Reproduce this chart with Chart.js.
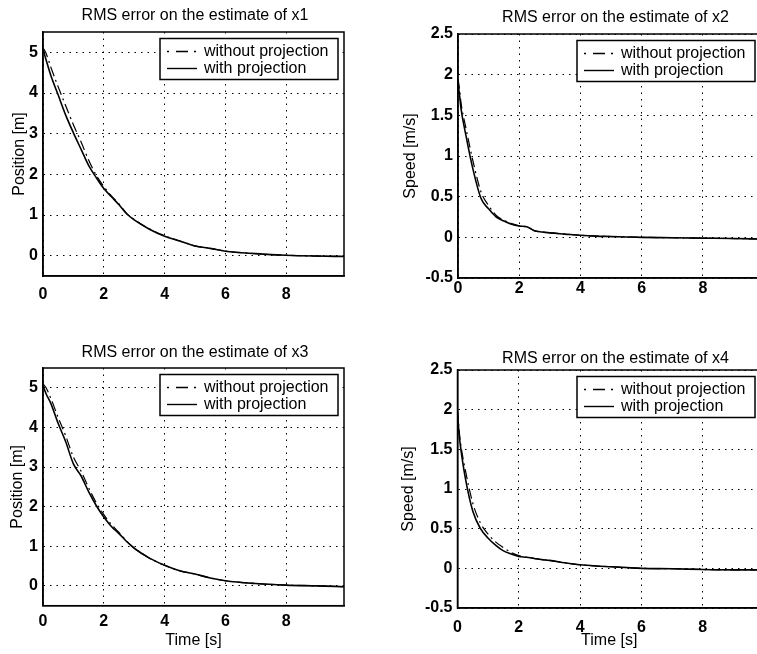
<!DOCTYPE html>
<html>
<head>
<meta charset="utf-8">
<script src="https://cdn.jsdelivr.net/npm/chart.js@4/dist/chart.umd.min.js"></script>
<style>
  body { margin: 0; background: #fff; width: 757px; height: 654px; overflow: hidden; position: relative; }
  canvas { position: absolute; }
</style>
</head>
<body>
<canvas id="c1" width="390" height="320" style="left:0px;top:0px"></canvas>
<canvas id="c2" width="431" height="320" style="left:400px;top:0px"></canvas>
<canvas id="c3" width="390" height="324" style="left:0px;top:330px"></canvas>
<canvas id="c4" width="439" height="324" style="left:396px;top:330px"></canvas>
<script>
// time samples [s]
const times = [0, 0.05, 0.1, 0.25, 0.5, 0.75, 1, 1.25, 1.5, 1.75, 2, 2.25, 2.5, 2.75, 3, 3.5, 4, 4.5, 5, 5.5, 6, 7, 8, 9, 9.9];

const x1Without = [5.1, 5.05, 4.98, 4.65, 4.15, 3.68, 3.22, 2.8, 2.35, 1.98, 1.7, 1.47, 1.27, 1.04, 0.89, 0.66, 0.49, 0.36, 0.24, 0.18, 0.11, 0.05, 0.01, -0.01, -0.02];
const x1With    = [5.1, 4.95, 4.82, 4.45, 3.95, 3.45, 3.02, 2.62, 2.22, 1.92, 1.65, 1.45, 1.25, 1.03, 0.88, 0.65, 0.48, 0.36, 0.24, 0.18, 0.11, 0.05, 0.01, -0.01, -0.02];

const x2Without = [1.95, 1.82, 1.65, 1.36, 0.92, 0.56, 0.39, 0.27, 0.21, 0.17, 0.14, 0.13, 0.08, 0.065, 0.055, 0.04, 0.025, 0.015, 0.01, 0.005, 0.0, -0.005, -0.01, -0.015, -0.02];
const x2With    = [1.9, 1.75, 1.58, 1.27, 0.82, 0.48, 0.35, 0.25, 0.2, 0.16, 0.14, 0.13, 0.08, 0.065, 0.055, 0.04, 0.025, 0.015, 0.01, 0.005, 0.0, -0.005, -0.01, -0.015, -0.02];

const x3Without = [5.1, 5.05, 5.0, 4.75, 4.25, 3.78, 3.25, 2.9, 2.48, 2.1, 1.8, 1.55, 1.35, 1.13, 0.96, 0.7, 0.52, 0.38, 0.3, 0.2, 0.13, 0.06, 0.02, 0.0, -0.02];
const x3With    = [5.05, 4.95, 4.85, 4.62, 4.1, 3.63, 3.08, 2.78, 2.38, 2.03, 1.74, 1.5, 1.32, 1.12, 0.95, 0.7, 0.52, 0.38, 0.3, 0.2, 0.13, 0.06, 0.02, 0.0, -0.02];

const x4Without = [2.0, 1.75, 1.58, 1.25, 0.82, 0.57, 0.43, 0.33, 0.26, 0.2, 0.16, 0.14, 0.125, 0.11, 0.1, 0.07, 0.045, 0.03, 0.02, 0.01, 0.0, -0.005, -0.015, -0.02, -0.02];
const x4With    = [1.97, 1.7, 1.53, 1.15, 0.72, 0.5, 0.38, 0.29, 0.22, 0.18, 0.15, 0.14, 0.125, 0.11, 0.1, 0.07, 0.045, 0.03, 0.02, 0.01, 0.0, -0.005, -0.015, -0.02, -0.02];

const timeTicks = [0, 2, 4, 6, 8];
const posTicks = [0, 1, 2, 3, 4, 5];
const speedTicks = [-0.5, 0, 0.5, 1, 1.5, 2, 2.5];

const legendLabels = ["without projection", "with projection"];
const FONT = "'Liberation Sans', Arial, Helvetica, sans-serif";

function toPoints(vals) {
  return vals.map((v, i) => ({ x: times[i], y: v }));
}

// matlab style frame round the axes
const framePlugin = {
  id: "frame",
  afterDatasetsDraw(chart) {
    const a = chart.chartArea;
    const ctx = chart.ctx;
    ctx.save();
    ctx.strokeStyle = "#000";
    ctx.lineWidth = 1.5;
    ctx.strokeRect(a.left, a.top, a.right - a.left, a.bottom - a.top);
    ctx.restore();
  }
};

// legend box inside the plot, top right
function legendPlugin() {
  return {
    id: "boxLegend",
    afterDraw(chart) {
      const a = chart.chartArea;
      const ctx = chart.ctx;
      const w = 178, h = 41;
      const x = a.right - 6 - w, y = a.top + 6.5;
      ctx.save();
      ctx.fillStyle = "#fff";
      ctx.fillRect(x, y, w, h);
      ctx.strokeStyle = "#000";
      ctx.lineWidth = 1.5;
      ctx.strokeRect(x, y, w, h);
      const rows = [y + 13, y + 30];
      ctx.lineWidth = 1.4;
      ctx.setLineDash([2, 7, 12, 6]);
      ctx.beginPath(); ctx.moveTo(x + 7, rows[0]); ctx.lineTo(x + 37, rows[0]); ctx.stroke();
      ctx.setLineDash([]);
      ctx.beginPath(); ctx.moveTo(x + 7, rows[1]); ctx.lineTo(x + 37, rows[1]); ctx.stroke();
      ctx.fillStyle = "#000";
      ctx.font = "16px " + FONT;
      ctx.textBaseline = "middle";
      ctx.fillText(legendLabels[0], x + 44, rows[0]);
      ctx.fillText(legendLabels[1], x + 44, rows[1]);
      ctx.restore();
    }
  };
}

function makeChart(id, o) {
  new Chart(document.getElementById(id), {
    type: "line",
    data: {
      datasets: [
        {
          data: toPoints(o.without),
          borderColor: "#000",
          borderWidth: 1.2,
          borderDash: [10, 4, 2, 4],
          pointRadius: 0,
          cubicInterpolationMode: "monotone"
        },
        {
          data: toPoints(o.with),
          borderColor: "#000",
          borderWidth: 1.6,
          pointRadius: 0,
          cubicInterpolationMode: "monotone"
        }
      ]
    },
    options: {
      responsive: false,
      animation: false,
      layout: { padding: 0 },
      plugins: {
        legend: { display: false },
        tooltip: { enabled: false },
        title: {
          display: true,
          text: o.title,
          color: "#000",
          font: { family: FONT, size: 16, weight: "normal" },
          padding: { top: o.titleTop, bottom: o.titleBottom }
        }
      },
      scales: {
        x: {
          type: "linear",
          min: 0,
          max: 9.9,
          afterBuildTicks: s => { s.ticks = timeTicks.map(v => ({ value: v })); },
          afterFit: s => { s.height = o.xHeight; },
          grid: { color: "#000", lineWidth: 1, drawTicks: false },
          border: { display: true, color: "#000", width: 1.5, dash: [1.5, 5] },
          ticks: {
            color: "#000",
            padding: o.xPad,
            maxRotation: 0,
            font: { family: FONT, size: 16, weight: "bold" },
            callback: v => String(v)
          },
          title: {
            display: !!o.xTitle,
            text: o.xTitle || "",
            color: "#000",
            font: { family: FONT, size: 16 },
            padding: { top: 0, bottom: 4 }
          }
        },
        y: {
          min: o.yMin,
          max: o.yMax,
          afterBuildTicks: s => { s.ticks = o.yTicks.map(v => ({ value: v })); },
          afterFit: s => { s.width = o.yWidth; },
          grid: { color: "#000", lineWidth: 1, drawTicks: false },
          border: { display: true, color: "#000", width: 1.5, dash: [1.5, 5] },
          ticks: {
            color: "#000",
            padding: 5,
            font: { family: FONT, size: 16, weight: "bold" },
            callback: v => String(v)
          },
          title: {
            display: true,
            text: o.yTitle,
            color: "#000",
            font: { family: FONT, size: 16 },
            padding: { top: o.yTitlePad, bottom: 0 }
          }
        },
        // empty right-hand box so the title stays centred on the whole figure
        yRight: {
          position: "right",
          min: o.yMin,
          max: o.yMax,
          afterFit: s => { s.width = o.padRight; },
          grid: { display: false },
          border: { display: false },
          ticks: { display: false }
        }
      }
    },
    plugins: [framePlugin, legendPlugin()]
  });
}

makeChart("c1", {
  title: "RMS error on the estimate of x1", yTitle: "Position [m]",
  without: x1Without, with: x1With,
  yMin: -0.5, yMax: 5.5, yTicks: posTicks,
  yWidth: 43, xHeight: 44, padRight: 46, titleTop: 6, titleBottom: 6.8,
  xPad: 9, yTitlePad: 9.5
});
makeChart("c2", {
  title: "RMS error on the estimate of x2", yTitle: "Speed [m/s]",
  without: x2Without, with: x2With,
  yMin: -0.5, yMax: 2.5, yTicks: speedTicks,
  yWidth: 58, xHeight: 42, padRight: 70, titleTop: 8, titleBottom: 6.8,
  xPad: 0.5, yTitlePad: 1
});
makeChart("c3", {
  title: "RMS error on the estimate of x3", yTitle: "Position [m]", xTitle: "Time [s]",
  without: x3Without, with: x3With,
  yMin: -0.5, yMax: 5.5, yTicks: posTicks,
  yWidth: 43, xHeight: 48.3, padRight: 46, titleTop: 12.5, titleBottom: 6.3,
  xPad: 6.5, yTitlePad: 8
});
makeChart("c4", {
  title: "RMS error on the estimate of x4", yTitle: "Speed [m/s]", xTitle: "Time [s]",
  without: x4Without, with: x4With,
  yMin: -0.5, yMax: 2.5, yTicks: speedTicks,
  yWidth: 61.5, xHeight: 46, padRight: 74, titleTop: 19, titleBottom: 1.8,
  xPad: 10, yTitlePad: 3
});
</script>
</body>
</html>
